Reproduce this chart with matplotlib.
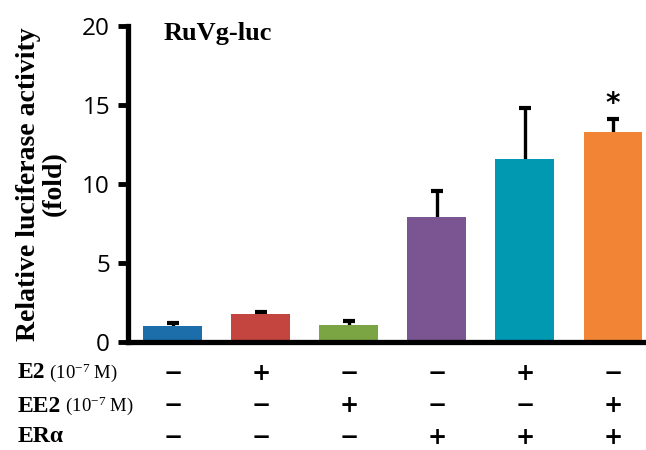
import numpy as np
import matplotlib.pyplot as plt

plt.rcParams['mathtext.fontset'] = 'custom'
plt.rcParams['mathtext.rm'] = 'Liberation Serif'
plt.rcParams['mathtext.it'] = 'Liberation Serif'

# datos
valores = [1.01, 1.77, 1.1, 7.91, 11.58, 13.29]
errores = [0.18, 0.10, 0.20, 1.65, 3.25, 0.80]
colores = ['#1C6EAB', '#C4443F', '#7BA443', '#7A5591', '#0099B1', '#F28535']
filas = ['E2', 'EE2', 'ER\u03b1']
notas = [' (10$^{\\mathrm{-7}}$ M)', ' (10$^{\\mathrm{-7}}$ M)', '']
signos = [
    ['-', '+', '-', '-', '+', '-'],
    ['-', '-', '+', '-', '-', '+'],
    ['-', '-', '-', '+', '+', '+'],
]

fig = plt.figure(figsize=(6.46, 4.5), dpi=100)
ax = fig.add_axes([128 / 646, 1 - 342 / 450, 1 - 128 / 646, (342 - 26) / 450])

x = np.arange(len(valores))
tops = np.array(valores) + np.array(errores)
ax.bar(x, valores, width=0.67, color=colores, zorder=2)
# solo la mitad superior de la barra de error
ax.vlines(x, valores, tops, color='black', lw=2.4, zorder=1)
ax.plot(x, tops, ls='none', marker='_', ms=8, mew=3, color='black', zorder=1)
ax.text(x[5], tops[5] + 0.1, '*', ha='center', va='bottom',
        fontsize=20, fontweight='bold', family='DejaVu Sans')

ax.set_xlim(-0.51, 5.375)
ax.set_ylim(0, 20)
ax.set_yticks([0, 5, 10, 15, 20])
ax.set_xticks([])
ax.tick_params(axis='y', direction='out', length=7, width=3.5, labelsize=17.5, pad=6)
for s in ['top', 'right']:
    ax.spines[s].set_visible(False)
for s in ['left', 'bottom']:
    ax.spines[s].set_linewidth(3.8)
for lab in ax.get_yticklabels():
    lab.set_fontfamily('Open Sans')

ax.set_ylabel('Relative luciferase activity\n(fold)', family='Liberation Serif',
              fontweight='bold', fontsize=20, linespacing=1.05, labelpad=11)
ax.text(0.068, 0.975, 'RuVg-luc', transform=ax.transAxes, family='Liberation Serif',
        fontweight='bold', fontsize=19, va='center', ha='left')

# tabla de tratamientos
ys = [373, 406, 437]
for fila, nota, fs, yp in zip(filas, notas, signos, ys):
    yf = 1 - yp / 450
    t = fig.text(18 / 646, yf, fila, family='Liberation Serif', fontweight='bold',
                 fontsize=17, va='center', ha='left')
    if nota:
        fig.canvas.draw()
        bb = t.get_window_extent()
        fig.text(bb.x1 / 646, yf, nota, family='Liberation Serif', fontsize=13.5,
                 va='center', ha='left')
    for i, s in enumerate(fs):
        xd = ax.transData.transform((x[i], 0))[0]
        ch = '+' if s == '+' else '\u2212'
        fig.text(xd / 646, yf, ch, family='DejaVu Sans', fontweight='bold',
                 fontsize=16.5, va='center', ha='center')

fig.savefig('out.png', dpi=100)
